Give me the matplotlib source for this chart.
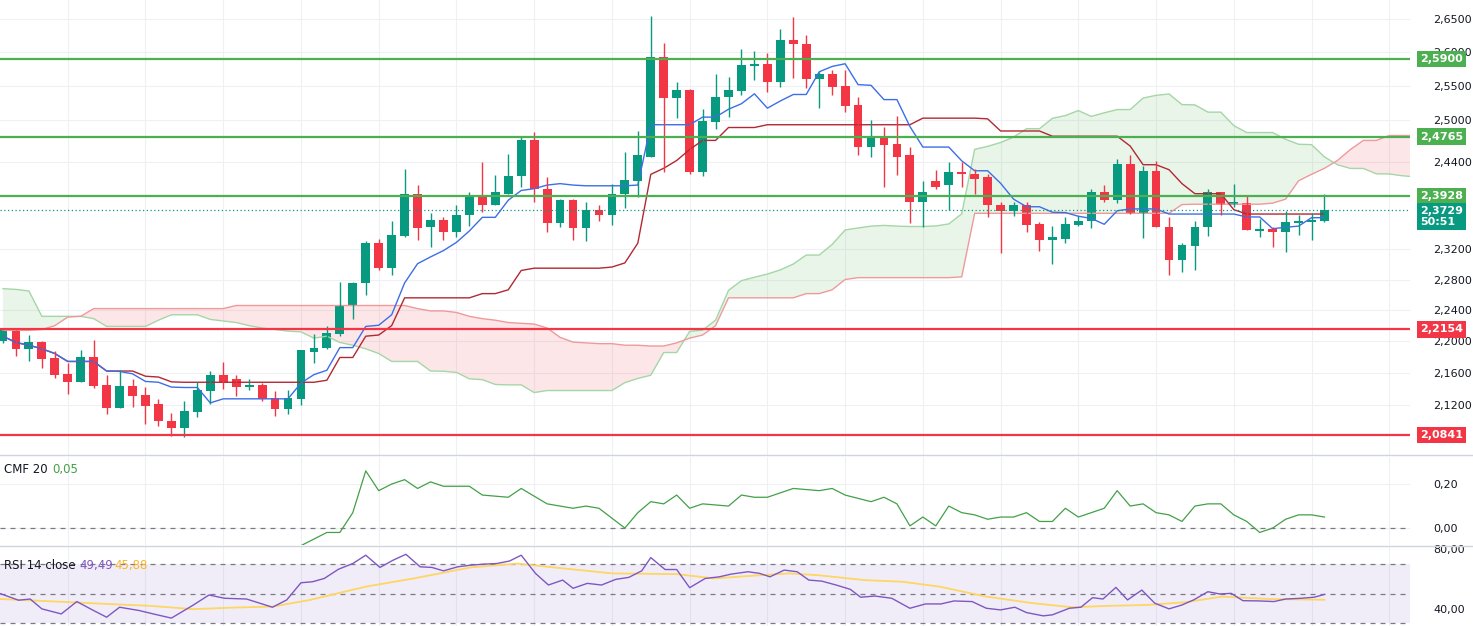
import numpy as np
import pandas as pd
import matplotlib
matplotlib.use("Agg")
import matplotlib.pyplot as plt
import matplotlib.transforms as mtrans

# ---------------- data ----------------
opens = [2.200,2.213,2.190,2.199,2.179,2.159,2.149,2.180,2.145,2.117,2.144,2.133,2.122,2.101,2.092,2.112,2.138,2.158,2.152,2.143,
         2.145,2.129,2.115,2.128,2.187,2.192,2.209,2.246,2.275,2.329,2.295,2.338,2.396,2.350,2.360,2.344,2.366,2.391,2.380,2.396,
         2.420,2.472,2.403,2.356,2.387,2.349,2.373,2.366,2.396,2.413,2.448,2.593,2.532,2.544,2.426,2.497,2.534,2.543,2.581,2.582,
         2.556,2.618,2.613,2.561,2.568,2.550,2.522,2.461,2.478,2.466,2.450,2.385,2.413,2.408,2.426,2.424,2.419,2.380,2.372,2.381,
         2.354,2.333,2.334,2.353,2.358,2.398,2.387,2.438,2.370,2.428,2.350,2.306,2.325,2.350,2.399,2.380,2.383,2.346,2.347,2.343,
         2.357,2.357,2.358]
highs = [2.215,2.214,2.208,2.200,2.188,2.173,2.189,2.202,2.157,2.164,2.153,2.143,2.128,2.111,2.125,2.149,2.163,2.174,2.158,2.153,
         2.147,2.138,2.139,2.189,2.209,2.220,2.277,2.277,2.331,2.334,2.358,2.430,2.408,2.369,2.364,2.381,2.398,2.441,2.422,2.451,
         2.478,2.483,2.419,2.388,2.389,2.385,2.381,2.409,2.455,2.485,2.656,2.614,2.556,2.545,2.516,2.567,2.563,2.605,2.602,2.599,
         2.635,2.654,2.626,2.571,2.573,2.573,2.534,2.501,2.490,2.506,2.462,2.413,2.429,2.441,2.440,2.430,2.424,2.384,2.385,2.384,
         2.357,2.352,2.364,2.365,2.402,2.408,2.445,2.450,2.435,2.442,2.364,2.329,2.358,2.402,2.399,2.410,2.394,2.361,2.350,2.372,
         2.366,2.369,2.395]
lows = [2.198,2.182,2.175,2.166,2.154,2.134,2.149,2.141,2.110,2.117,2.118,2.097,2.095,2.083,2.082,2.106,2.122,2.140,2.132,2.139,
        2.125,2.107,2.110,2.121,2.172,2.190,2.207,2.229,2.260,2.293,2.286,2.337,2.333,2.323,2.333,2.337,2.352,2.371,2.380,2.396,
        2.406,2.384,2.343,2.350,2.333,2.331,2.358,2.353,2.376,2.392,2.448,2.426,2.503,2.423,2.421,2.488,2.504,2.537,2.559,2.541,
        2.549,2.562,2.547,2.518,2.537,2.512,2.450,2.448,2.406,2.422,2.356,2.350,2.402,2.373,2.406,2.395,2.364,2.315,2.365,2.344,
        2.318,2.300,2.329,2.352,2.349,2.385,2.383,2.368,2.335,2.350,2.286,2.290,2.293,2.338,2.367,2.377,2.346,2.337,2.323,2.316,
        2.339,2.333,2.357]
closes = [2.214,2.190,2.199,2.178,2.158,2.149,2.180,2.144,2.117,2.144,2.132,2.119,2.101,2.092,2.113,2.139,2.158,2.149,2.143,2.145,
          2.128,2.115,2.129,2.189,2.192,2.210,2.246,2.276,2.329,2.295,2.339,2.396,2.349,2.360,2.344,2.367,2.391,2.380,2.398,2.420,
          2.472,2.402,2.356,2.387,2.349,2.373,2.366,2.396,2.415,2.450,2.593,2.532,2.544,2.426,2.499,2.534,2.544,2.581,2.582,2.556,
          2.618,2.613,2.561,2.568,2.549,2.520,2.461,2.478,2.465,2.448,2.385,2.399,2.406,2.426,2.423,2.417,2.380,2.372,2.381,2.353,
          2.333,2.337,2.354,2.358,2.398,2.387,2.438,2.368,2.428,2.350,2.306,2.326,2.350,2.399,2.380,2.384,2.346,2.347,2.343,2.357,
          2.358,2.360,2.373]

# cloud values before the data history allows computing them
span_a_prior = [2.268,2.267,2.265,2.232,2.232,2.232,2.232,2.229,2.219,2.219,2.219,2.219,2.227,2.234,2.234,2.234,2.228,2.226,2.224,
                2.220,2.217,2.215,2.213,2.212,2.204]
span_b_prior = [2.214,2.214,2.214,2.215,2.220,2.231,2.232,2.242,2.242,2.242,2.242,2.242,2.242,2.242,2.242,2.242,2.242,2.242,
                2.246,2.246,2.246,2.246,2.246,2.246,2.246,2.246,2.246,2.246,2.246,2.246,2.246,2.246,2.242,2.239,2.239,2.237,
                2.232,2.229,2.227,2.224,2.223,2.222,2.217,2.205,2.199,2.198,2.197,2.197,2.195,2.195,2.194,2.194,2.198,2.204]

support_res_green = [2.5900, 2.4765, 2.3928]
support_res_red = [2.2154, 2.0841]
last_price = 2.3729
countdown = "50:51"
price_ticks = [2.65, 2.60, 2.55, 2.50, 2.44, 2.32, 2.28, 2.24, 2.20, 2.16, 2.12]

cmf_bars = [23,25,26,27,28,29,30,31,32,33,34,36,37,39,40,42,44,45,46,48,49,50,51,52,53,54,56,57,58,59,61,63,64,65,67,68,69,70,
            71,72,73,74,75,76,77,78,79,80,81,82,83,84,85,86,87,88,89,90,91,92,93,94,95,96,97,98,99,100,101,102]
cmf_vals = [-0.08,-0.02,-0.02,0.07,0.26,0.17,0.20,0.22,0.18,0.21,0.19,0.19,0.15,0.14,0.18,0.11,0.09,0.10,0.09,0.00,0.07,0.12,
            0.11,0.15,0.09,0.11,0.10,0.15,0.14,0.14,0.18,0.17,0.18,0.15,0.12,0.14,0.11,0.01,0.05,0.01,0.10,0.07,0.06,0.04,0.05,
            0.05,0.07,0.03,0.03,0.09,0.05,0.07,0.09,0.17,0.10,0.11,0.07,0.06,0.03,0.10,0.11,0.11,0.06,0.03,-0.02,0.00,0.04,0.06,
            0.06,0.05]

rsi_bars = [-0.2,1.2,2.1,3.0,4.5,5.7,6.9,8.0,9.0,10.5,11.7,13.0,14.7,15.9,17.1,18.8,20.8,21.9,23.0,23.9,24.8,25.9,27.0,28.0,
            29.1,30.1,31.1,32.2,33.1,34.0,35.1,36.1,37.1,38.1,39.1,40.0,41.1,42.1,43.2,44.0,45.1,46.2,47.3,48.3,49.3,50.0,51.1,
            52.0,53.0,54.2,55.3,56.2,57.5,58.4,59.2,60.3,61.3,62.2,63.2,64.3,65.4,66.2,67.3,68.6,70.0,71.2,72.4,73.4,74.8,75.9,
            77.0,78.1,79.0,80.3,81.0,82.3,83.2,84.1,84.9,85.9,86.8,87.9,88.9,90.0,91.0,91.9,93.0,93.9,94.8,95.7,97.0,98.1,99.0,
            100.2,101.2,102.0]
rsi_vals = [50.0,45.6,46.4,39.8,36.4,44.7,39.1,34.2,40.9,38.7,36.2,33.6,42.4,49.1,46.9,46.4,40.9,45.8,57.3,58.0,60.2,66.4,70.2,
            75.8,67.6,72.4,76.4,68.0,67.6,65.3,68.0,69.1,69.8,70.2,71.9,75.8,63.6,55.8,59.1,53.6,56.9,55.8,59.6,60.9,65.3,74.2,
            66.2,66.2,54.0,60.2,61.3,63.1,64.7,63.6,61.3,65.8,64.7,59.1,58.4,55.8,52.9,47.6,48.4,46.9,40.2,43.1,43.1,45.1,44.7,
            40.2,39.1,40.9,37.3,35.1,35.8,40.2,40.9,47.3,46.4,54.2,45.8,52.4,43.6,39.8,42.4,45.8,51.3,49.8,50.2,45.3,45.1,44.7,
            46.4,46.9,47.6,49.49]
rsi_ma_bars = [-0.2,4.1,8.5,11.4,14.7,17.9,20.8,23.7,28.0,31.7,36.1,39.7,43.3,47.0,52.0,54.9,57.8,60.7,62.9,66.5,69.4,72.3,75.9,
               79.5,82.5,85.3,88.3,91.2,94.1,97.7,102.0]
rsi_ma_vals = [46.4,44.7,42.9,41.8,39.6,40.7,41.3,45.8,54.7,60.2,67.6,70.2,66.9,63.6,63.1,60.2,62.0,63.6,62.4,59.1,58.0,54.7,
               48.0,43.6,40.9,41.8,42.4,44.2,48.0,46.4,45.88]

# ---------------- ichimoku ----------------
df = pd.DataFrame({"o": opens, "h": highs, "l": lows, "c": closes})
n = len(df)
tenkan = (df.h.rolling(9, min_periods=1).max() + df.l.rolling(9, min_periods=1).min()) / 2
kijun = (df.h.rolling(26, min_periods=1).max() + df.l.rolling(26, min_periods=1).min()) / 2
mid52 = (df.h.rolling(52, min_periods=1).max() + df.l.rolling(52, min_periods=1).min()) / 2
disp = 25
nfut = n + 7
span_a = np.full(nfut, np.nan)
span_b = np.full(nfut, np.nan)
for j in range(nfut):
    if j < len(span_a_prior):
        span_a[j] = span_a_prior[j]
    elif j - disp < n:
        span_a[j] = (tenkan[j - disp] + kijun[j - disp]) / 2
    if j < len(span_b_prior):
        span_b[j] = span_b_prior[j]
    elif j - disp < n:
        span_b[j] = mid52[j - disp]

GREEN = "#089981"
RED = "#f23645"
LGREEN = "#4caf50"
FS = 8

W, H = 1473, 626
fig = plt.figure(figsize=(W / 100, H / 100), dpi=100)
aw = 1410 / W
ax = fig.add_axes([0, 1 - 455 / H, aw, 455 / H])
axc = fig.add_axes([0, 1 - 545 / H, aw, 88 / H])
axr = fig.add_axes([0, 0, aw, 79 / H])

xlo, xhi = -0.23, 108.6
for a in (ax, axc, axr):
    a.set_xlim(xlo, xhi)
    for s in a.spines.values():
        s.set_visible(False)
    a.set_xticks(np.arange(5, 109, 6))
    a.tick_params(axis="x", length=0, labelbottom=False)
    a.grid(axis="x", color="#eef0f4", lw=0.8)
    a.yaxis.tick_right()
    a.tick_params(axis="y", length=0, labelsize=FS, labelcolor="#131722", pad=17)
    a.set_axisbelow(True)

# main
ax.set_yscale("log")
ax.set_ylim(2.060, 2.680)
ax.yaxis.set_major_locator(matplotlib.ticker.FixedLocator(price_ticks))
ax.yaxis.set_minor_locator(matplotlib.ticker.NullLocator())
ax.set_yticklabels([f"{v:.4f}".replace(".", ",") for v in price_ticks])
ax.grid(axis="y", color="#eef0f4", lw=0.8)

xs = np.arange(nfut)
ax.fill_between(xs, span_a, span_b, where=span_a >= span_b, interpolate=True, color=LGREEN, alpha=0.12, lw=0)
ax.fill_between(xs, span_a, span_b, where=span_a < span_b, interpolate=True, color=RED, alpha=0.12, lw=0)
ax.plot(xs, span_a, color="#a5d6a7", lw=1)
ax.plot(xs, span_b, color="#ef9a9a", lw=1)
ax.plot(np.arange(n), kijun, color="#b22833", lw=1)
ax.plot(np.arange(n), tenkan, color="#3d6ee8", lw=1)

for i in range(n):
    o, h, l, c = opens[i], highs[i], lows[i], closes[i]
    col = GREEN if c >= o else RED
    ax.vlines(i, l, h, color=col, lw=1)
    lo, hi = min(o, c), max(o, c)
    if hi / lo < 1.0006:
        ax.hlines((o + c) / 2, i - 0.35, i + 0.35, color=col, lw=1.5)
    else:
        ax.bar(i, hi - lo, bottom=lo, width=0.68, color=col, lw=0)

for v in support_res_green:
    ax.axhline(v, color=LGREEN, lw=1.6)
for v in support_res_red:
    ax.axhline(v, color=RED, lw=1.6)
ax.axhline(last_price, color=GREEN, lw=0.9, ls=(0, (1, 2)))

tr = mtrans.blended_transform_factory(ax.transAxes, ax.transData)
def tag(v, color, text, dy=0):
    t = mtrans.offset_copy(tr, fig=fig, x=0, y=dy, units="dots")
    ax.text(1.0 + 10 / 1410, v, text, transform=t, ha="left", va="center", fontsize=FS, color="white",
            fontweight="bold", linespacing=1.1,
            bbox=dict(boxstyle="square,pad=0.3", fc=color, ec="none"), clip_on=False, zorder=10)
for v in support_res_green:
    tag(v, LGREEN, f"{v:.4f}".replace(".", ","))
for v in support_res_red:
    tag(v, RED, f"{v:.4f}".replace(".", ","))
tag(last_price, GREEN, f"{last_price:.4f}".replace(".", ",") + "\n" + countdown, dy=-6)

# CMF
axc.set_ylim(-0.077, 0.323)
axc.set_yticks([0.0, 0.2])
axc.set_yticklabels(["0,00", "0,20"])
axc.grid(axis="y", color="#eef0f4", lw=0.8)
axc.axhline(0, color="#787b86", lw=0.9, ls=(0, (4, 4)))
axc.plot(cmf_bars, cmf_vals, color="#43a047", lw=0.9)
axc.text(0.003, 0.86, "CMF 20", transform=axc.transAxes, fontsize=8.5, color="#131722", va="center")
axc.text(0.037, 0.86, "0,05", transform=axc.transAxes, fontsize=8.5, color="#43a047", va="center")

# RSI
axr.set_ylim(28.3, 81.3)
axr.set_yticks([40, 80])
axr.set_yticklabels(["40,00", "80,00"])
axr.axhspan(30, 70, color="#7e57c2", alpha=0.1, lw=0)
for v in (70, 50, 30):
    axr.axhline(v, color="#787b86", lw=0.9, ls=(0, (4, 4)))
axr.plot(rsi_ma_bars, rsi_ma_vals, color="#fdd663", lw=1.3)
axr.plot(rsi_bars, rsi_vals, color="#7e57c2", lw=1)
axr.text(0.003, 0.77, "RSI 14 close", transform=axr.transAxes, fontsize=8.5, color="#131722", va="center")
axr.text(0.056, 0.77, "49,49", transform=axr.transAxes, fontsize=8.5, color="#7e57c2", va="center")
axr.text(0.081, 0.77, "45,88", transform=axr.transAxes, fontsize=8.5, color="#f9b62b", va="center")

# panel separators
for yy in (455, 546):
    fig.add_artist(plt.Line2D([0, 1], [1 - yy / H, 1 - yy / H], color="#d1d4dc", lw=1))

fig.savefig("out.png", dpi=100)
